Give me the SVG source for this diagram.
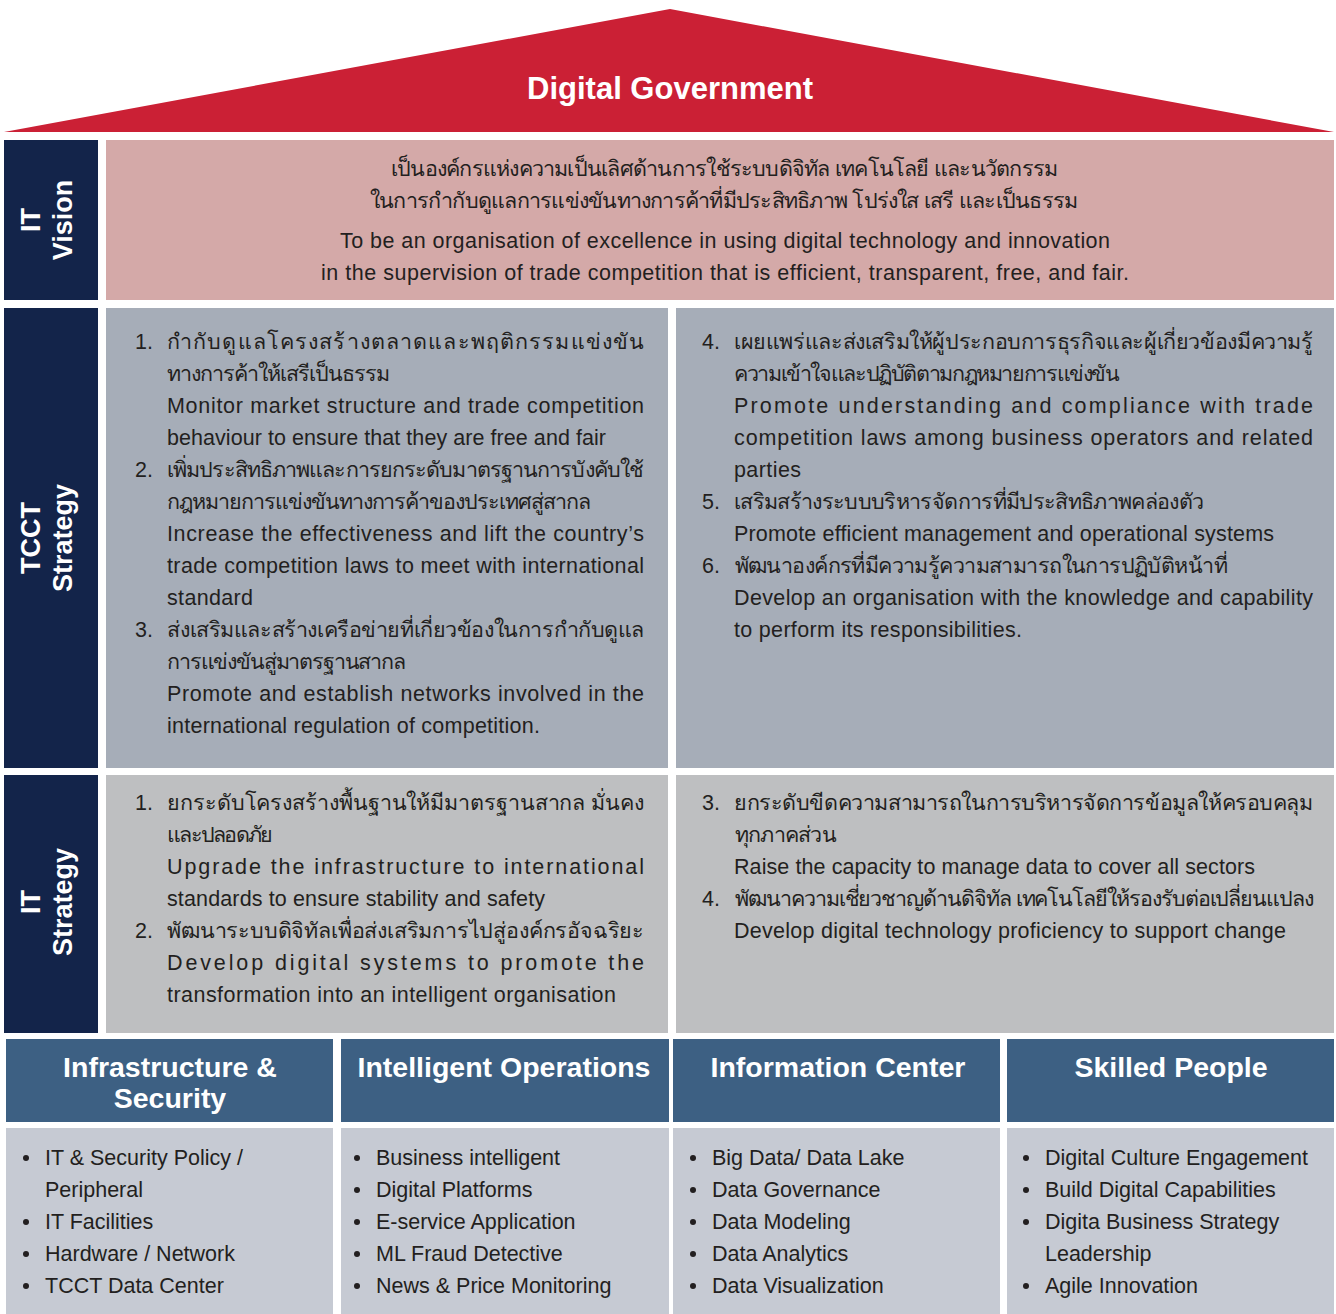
<svg xmlns="http://www.w3.org/2000/svg" width="1336" height="1314" viewBox="0 0 1336 1314">
<style>
.t{font-family:"Liberation Sans","Noto Sans","DejaVu Sans",sans-serif;font-size:21.5px;fill:#231F20}
.lbl{font-family:"Liberation Sans","Noto Sans",sans-serif;font-size:27px;font-weight:bold;fill:#FFFFFF;text-anchor:middle}
.hd{font-family:"Liberation Sans","Noto Sans",sans-serif;font-size:28.5px;font-weight:bold;fill:#FFFFFF;text-anchor:middle}
.navy{fill:#13244A}
.vis{fill:#D4A9A8}
.tcct{fill:#A6ADB8}
.its{fill:#BEBFC1}
.hdr{fill:#3D6083}
.body{fill:#C6CAD3}
.dot{fill:#231F20}
</style>
<rect width="1336" height="1314" fill="#FFFFFF"/>

<g id="roof">
<polygon points="4,132 670,9 1334,132" fill="#CB2035"/>
<text x="670" y="99" font-family="Liberation Sans, Noto Sans, sans-serif" font-size="31" font-weight="bold" fill="#FFFFFF" text-anchor="middle">Digital Government</text>
</g>

<g id="label-it-vision">
<rect class="navy" x="4" y="140" width="94" height="160"/>
<g transform="translate(0,220) rotate(-90)">
<text class="lbl" x="0" y="40">IT</text>
<text class="lbl" x="0" y="72">Vision</text>
</g>
</g>

<g id="vision">
<rect class="vis" x="106" y="140" width="1228" height="160"/>
<text class="t" x="391" y="176" textLength="667">เป็นองค์กรแห่งความเป็นเลิศด้านการใช้ระบบดิจิทัล เทคโนโลยี และนวัตกรรม</text>
<text class="t" x="370" y="208" textLength="708">ในการกำกับดูแลการแข่งขันทางการค้าที่มีประสิทธิภาพ โปร่งใส เสรี และเป็นธรรม</text>
<text class="t" x="340" y="248" textLength="770">To be an organisation of excellence in using digital technology and innovation</text>
<text class="t" x="321" y="280" textLength="808">in the supervision of trade competition that is efficient, transparent, free, and fair.</text>
</g>

<g id="label-tcct-strategy">
<rect class="navy" x="4" y="308" width="94" height="460"/>
<g transform="translate(0,538) rotate(-90)">
<text class="lbl" x="0" y="40">TCCT</text>
<text class="lbl" x="0" y="72">Strategy</text>
</g>
</g>

<g id="tcct-left">
<rect class="tcct" x="106" y="308" width="562" height="460"/>
<text class="t" x="135" y="349">1.</text>
<text class="t" x="167" y="349" textLength="477">กำกับดูแลโครงสร้างตลาดและพฤติกรรมแข่งขัน</text>
<text class="t" x="167" y="381" textLength="223">ทางการค้าให้เสรีเป็นธรรม</text>
<text class="t" x="167" y="413" textLength="477">Monitor market structure and trade competition</text>
<text class="t" x="167" y="445" textLength="439">behaviour to ensure that they are free and fair</text>
<text class="t" x="135" y="477">2.</text>
<text class="t" x="167" y="477" textLength="477">เพิ่มประสิทธิภาพและการยกระดับมาตรฐานการบังคับใช้</text>
<text class="t" x="167" y="509" textLength="424">กฎหมายการแข่งขันทางการค้าของประเทศสู่สากล</text>
<text class="t" x="167" y="541" textLength="477">Increase the effectiveness and lift the country’s</text>
<text class="t" x="167" y="573" textLength="477">trade competition laws to meet with international</text>
<text class="t" x="167" y="605" textLength="86">standard</text>
<text class="t" x="135" y="637">3.</text>
<text class="t" x="167" y="637" textLength="477">ส่งเสริมและสร้างเครือข่ายที่เกี่ยวข้องในการกำกับดูแล</text>
<text class="t" x="167" y="669" textLength="239">การแข่งขันสู่มาตรฐานสากล</text>
<text class="t" x="167" y="701" textLength="477">Promote and establish networks involved in the</text>
<text class="t" x="167" y="733" textLength="373">international regulation of competition.</text>
</g>

<g id="tcct-right">
<rect class="tcct" x="676" y="308" width="658" height="460"/>
<text class="t" x="702" y="349">4.</text>
<text class="t" x="734" y="349" textLength="579">เผยแพร่และส่งเสริมให้ผู้ประกอบการธุรกิจและผู้เกี่ยวข้องมีความรู้</text>
<text class="t" x="734" y="381" textLength="386">ความเข้าใจและปฏิบัติตามกฎหมายการแข่งขัน</text>
<text class="t" x="734" y="413" textLength="579">Promote understanding and compliance with trade</text>
<text class="t" x="734" y="445" textLength="579">competition laws among business operators and related</text>
<text class="t" x="734" y="477" textLength="67">parties</text>
<text class="t" x="702" y="509">5.</text>
<text class="t" x="734" y="509" textLength="470">เสริมสร้างระบบบริหารจัดการที่มีประสิทธิภาพคล่องตัว</text>
<text class="t" x="734" y="541" textLength="540">Promote efficient management and operational systems</text>
<text class="t" x="702" y="573">6.</text>
<text class="t" x="734" y="573" textLength="493">พัฒนาองค์กรที่มีความรู้ความสามารถในการปฏิบัติหน้าที่</text>
<text class="t" x="734" y="605" textLength="579">Develop an organisation with the knowledge and capability</text>
<text class="t" x="734" y="637" textLength="288">to perform its responsibilities.</text>
</g>

<g id="label-it-strategy">
<rect class="navy" x="4" y="775" width="94" height="258"/>
<g transform="translate(0,902) rotate(-90)">
<text class="lbl" x="0" y="40">IT</text>
<text class="lbl" x="0" y="72">Strategy</text>
</g>
</g>

<g id="it-left">
<rect class="its" x="106" y="775" width="562" height="258"/>
<text class="t" x="135" y="810">1.</text>
<text class="t" x="167" y="810" textLength="477">ยกระดับโครงสร้างพื้นฐานให้มีมาตรฐานสากล มั่นคง</text>
<text class="t" x="167" y="842" textLength="106">และปลอดภัย</text>
<text class="t" x="167" y="874" textLength="477">Upgrade the infrastructure to international</text>
<text class="t" x="167" y="906" textLength="378">standards to ensure stability and safety</text>
<text class="t" x="135" y="938">2.</text>
<text class="t" x="167" y="938" textLength="477">พัฒนาระบบดิจิทัลเพื่อส่งเสริมการไปสู่องค์กรอัจฉริยะ</text>
<text class="t" x="167" y="970" textLength="477">Develop digital systems to promote the</text>
<text class="t" x="167" y="1002" textLength="449">transformation into an intelligent organisation</text>
</g>

<g id="it-right">
<rect class="its" x="676" y="775" width="658" height="258"/>
<text class="t" x="702" y="810">3.</text>
<text class="t" x="734" y="810" textLength="579">ยกระดับขีดความสามารถในการบริหารจัดการข้อมูลให้ครอบคลุม</text>
<text class="t" x="734" y="842" textLength="102">ทุกภาคส่วน</text>
<text class="t" x="734" y="874" textLength="521">Raise the capacity to manage data to cover all sectors</text>
<text class="t" x="702" y="906">4.</text>
<text class="t" x="734" y="906" textLength="579">พัฒนาความเชี่ยวชาญด้านดิจิทัล เทคโนโลยีให้รองรับต่อเปลี่ยนแปลง</text>
<text class="t" x="734" y="938" textLength="552">Develop digital technology proficiency to support change</text>
</g>

<g id="pillar-infrastructure">
<rect class="hdr" x="6" y="1039" width="327" height="83"/>
<text class="hd" x="170" y="1077">Infrastructure &amp;</text>
<text class="hd" x="170" y="1108">Security</text>
<rect class="body" x="6" y="1128" width="327" height="186"/>
<circle class="dot" cx="26" cy="1158" r="3"/>
<text class="t" x="45" y="1165">IT &amp; Security Policy /</text>
<text class="t" x="45" y="1197">Peripheral</text>
<circle class="dot" cx="26" cy="1222" r="3"/>
<text class="t" x="45" y="1229">IT Facilities</text>
<circle class="dot" cx="26" cy="1254" r="3"/>
<text class="t" x="45" y="1261">Hardware / Network</text>
<circle class="dot" cx="26" cy="1286" r="3"/>
<text class="t" x="45" y="1293">TCCT Data Center</text>
</g>

<g id="pillar-operations">
<rect class="hdr" x="341" y="1039" width="328" height="83"/>
<text class="hd" x="504" y="1077">Intelligent Operations</text>
<rect class="body" x="341" y="1128" width="328" height="186"/>
<circle class="dot" cx="357" cy="1158" r="3"/>
<text class="t" x="376" y="1165">Business intelligent</text>
<circle class="dot" cx="357" cy="1190" r="3"/>
<text class="t" x="376" y="1197">Digital Platforms</text>
<circle class="dot" cx="357" cy="1222" r="3"/>
<text class="t" x="376" y="1229">E-service Application</text>
<circle class="dot" cx="357" cy="1254" r="3"/>
<text class="t" x="376" y="1261">ML Fraud Detective</text>
<circle class="dot" cx="357" cy="1286" r="3"/>
<text class="t" x="376" y="1293">News &amp; Price Monitoring</text>
</g>

<g id="pillar-information">
<rect class="hdr" x="673" y="1039" width="327" height="83"/>
<text class="hd" x="838" y="1077">Information Center</text>
<rect class="body" x="673" y="1128" width="327" height="186"/>
<circle class="dot" cx="693" cy="1158" r="3"/>
<text class="t" x="712" y="1165">Big Data/ Data Lake</text>
<circle class="dot" cx="693" cy="1190" r="3"/>
<text class="t" x="712" y="1197">Data Governance</text>
<circle class="dot" cx="693" cy="1222" r="3"/>
<text class="t" x="712" y="1229">Data Modeling</text>
<circle class="dot" cx="693" cy="1254" r="3"/>
<text class="t" x="712" y="1261">Data Analytics</text>
<circle class="dot" cx="693" cy="1286" r="3"/>
<text class="t" x="712" y="1293">Data Visualization</text>
</g>

<g id="pillar-people">
<rect class="hdr" x="1007" y="1039" width="327" height="83"/>
<text class="hd" x="1171" y="1077">Skilled People</text>
<rect class="body" x="1007" y="1128" width="327" height="186"/>
<circle class="dot" cx="1026" cy="1158" r="3"/>
<text class="t" x="1045" y="1165">Digital Culture Engagement</text>
<circle class="dot" cx="1026" cy="1190" r="3"/>
<text class="t" x="1045" y="1197">Build Digital Capabilities</text>
<circle class="dot" cx="1026" cy="1222" r="3"/>
<text class="t" x="1045" y="1229">Digita Business Strategy</text>
<text class="t" x="1045" y="1261">Leadership</text>
<circle class="dot" cx="1026" cy="1286" r="3"/>
<text class="t" x="1045" y="1293">Agile Innovation</text>
</g>
</svg>
